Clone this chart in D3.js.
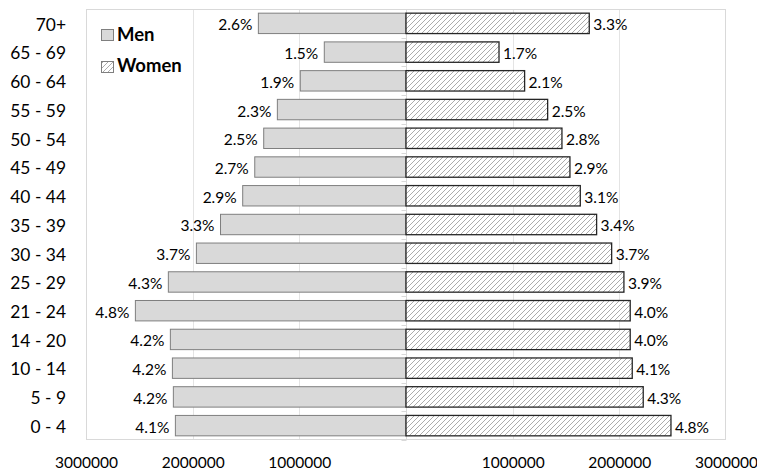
<!DOCTYPE html>
<html>
<head>
<meta charset="utf-8">
<script src="https://cdn.jsdelivr.net/npm/d3@7"></script>
<style>
  html, body { margin: 0; padding: 0; background: #fff; }
  svg { display: block; }
  text { font-family: Lato, "Open Sans", sans-serif; fill: #000; }
</style>
</head>
<body>
<svg id="chart" width="757" height="470"></svg>
<script>
// ---- data ----
const categories = ["70+", "65 - 69", "60 - 64", "55 - 59", "50 - 54", "45 - 49", "40 - 44",
  "35 - 39", "30 - 34", "25 - 29", "21 - 24", "14 - 20", "10 - 14", "5 - 9", "0 - 4"];
const menValues = [1384000, 766000, 991000, 1206000, 1334000, 1418000, 1531000,
  1739000, 1965000, 2228000, 2537000, 2209000, 2190000, 2181000, 2162000];
const womenValues = [1718000, 872000, 1112000, 1328000, 1462000, 1537000, 1634000,
  1787000, 1928000, 2043000, 2102000, 2102000, 2121000, 2224000, 2484000];
const menLabels = ["2.6%", "1.5%", "1.9%", "2.3%", "2.5%", "2.7%", "2.9%",
  "3.3%", "3.7%", "4.3%", "4.8%", "4.2%", "4.2%", "4.2%", "4.1%"];
const womenLabels = ["3.3%", "1.7%", "2.1%", "2.5%", "2.8%", "2.9%", "3.1%",
  "3.4%", "3.7%", "3.9%", "4.0%", "4.0%", "4.1%", "4.3%", "4.8%"];
const xTickValues = [-3000000, -2000000, -1000000, 1000000, 2000000, 3000000];
const gridValues = [-2000000, -1000000, 1000000, 2000000];
const seriesNames = ["Men", "Women"];

// ---- layout ----
const svg = d3.select("#chart");
const plot = { left: 86, right: 726, top: 9, bottom: 440 };

const x = d3.scaleLinear().domain([-3000000, 3000000]).range([plot.left, plot.right]);
const y = d3.scaleBand().domain(categories).range([plot.top, plot.bottom])
  .paddingInner(0.29).paddingOuter(0.145);

const defs = svg.append("defs");
const pat = defs.append("pattern")
  .attr("id", "hatch").attr("patternUnits", "userSpaceOnUse")
  .attr("width", 5).attr("height", 5);
pat.append("rect").attr("width", 5).attr("height", 5).attr("fill", "#fff");
pat.append("path")
  .attr("d", "M-1,1 L1,-1 M0,5 L5,0 M4,6 L6,4")
  .attr("stroke", "#a3a3a3").attr("stroke-width", 0.9);

// plot area border
svg.append("rect")
  .attr("x", plot.left + 0.5).attr("y", plot.top + 0.5)
  .attr("width", plot.right - plot.left - 1).attr("height", plot.bottom - plot.top - 1)
  .attr("fill", "none").attr("stroke", "#d9d9d9");

// gridlines
svg.append("g").selectAll("line").data(gridValues).join("line")
  .attr("x1", d => Math.round(x(d)) + 0.5).attr("x2", d => Math.round(x(d)) + 0.5)
  .attr("y1", plot.top + 1).attr("y2", plot.bottom - 1)
  .attr("stroke", "#e4e4e4");

// center axis
const cx = Math.round(x(0)) + 0.5;
svg.append("line").attr("x1", cx).attr("x2", cx)
  .attr("y1", plot.top + 1).attr("y2", plot.bottom - 1).attr("stroke", "#d9d9d9");
const boundaries = categories.map((c, i) => plot.top + i * y.step()).concat([plot.bottom]);
svg.append("g").selectAll("line").data(boundaries).join("line")
  .attr("x1", cx - 5).attr("x2", cx)
  .attr("y1", d => Math.round(d) + 0.5).attr("y2", d => Math.round(d) + 0.5)
  .attr("stroke", "#d9d9d9");

// men bars
svg.append("g").selectAll("rect").data(categories).join("rect")
  .attr("x", (c, i) => x(-menValues[i]))
  .attr("y", c => y(c))
  .attr("width", (c, i) => x(0) - x(-menValues[i]))
  .attr("height", y.bandwidth())
  .attr("fill", "#d9d9d9").attr("stroke", "#7f7f7f").attr("stroke-width", 1);

// women bars
svg.append("g").selectAll("rect").data(categories).join("rect")
  .attr("x", x(0))
  .attr("y", c => y(c))
  .attr("width", (c, i) => x(womenValues[i]) - x(0))
  .attr("height", y.bandwidth())
  .attr("fill", "url(#hatch)").attr("stroke", "#262626").attr("stroke-width", 1.3);

// data labels
svg.append("g").selectAll("text").data(categories).join("text")
  .attr("x", (c, i) => x(-menValues[i]) - 6)
  .attr("y", c => y(c) + y.bandwidth() / 2)
  .attr("dy", "0.45em").attr("text-anchor", "end")
  .style("font-size", "15.5px")
  .text((c, i) => menLabels[i]);
svg.append("g").selectAll("text").data(categories).join("text")
  .attr("x", (c, i) => x(womenValues[i]) + 4)
  .attr("y", c => y(c) + y.bandwidth() / 2)
  .attr("dy", "0.45em").attr("text-anchor", "start")
  .style("font-size", "15.5px")
  .text((c, i) => womenLabels[i]);

// category axis
const yAxis = svg.append("g").attr("transform", `translate(${plot.left},0)`)
  .call(d3.axisLeft(y).tickSize(0).tickPadding(20));
yAxis.select(".domain").remove();
yAxis.selectAll("text").attr("dy", "0.42em")
  .style("font-size", "17.4px").style("font-family", "Lato, sans-serif").attr("fill", "#000");

// x axis
const xAxis = svg.append("g").attr("transform", `translate(0,${plot.bottom})`)
  .call(d3.axisBottom(x).tickValues(xTickValues).tickSize(0).tickPadding(17)
    .tickFormat(d => String(Math.abs(d))));
xAxis.select(".domain").remove();
xAxis.selectAll("text")
  .style("font-size", "15.5px").style("font-family", "Lato, sans-serif").attr("fill", "#000");

// legend
const legend = svg.append("g");
legend.append("rect").attr("x", 101.5).attr("y", 29.5).attr("width", 12).attr("height", 11)
  .attr("fill", "#d9d9d9").attr("stroke", "#7f7f7f");
legend.append("rect").attr("x", 101.5).attr("y", 61.5).attr("width", 12).attr("height", 11)
  .attr("fill", "url(#hatch)").attr("stroke", "#7f7f7f");
legend.append("text").attr("x", 117).attr("y", 40.7)
  .style("font-size", "18.5px").style("font-weight", "bold").text(seriesNames[0]);
legend.append("text").attr("x", 117).attr("y", 72.3)
  .style("font-size", "18.5px").style("font-weight", "bold").text(seriesNames[1]);
</script>
</body>
</html>
